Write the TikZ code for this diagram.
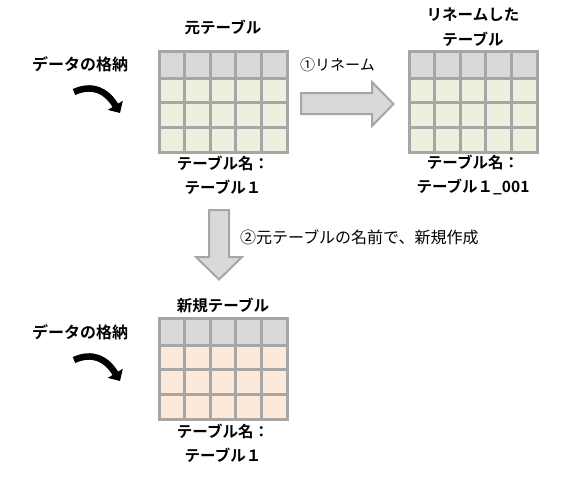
\documentclass[tikz,border=0pt]{standalone}
\usepackage{fontspec}
\setmainfont{Noto Sans CJK JP}[BoldFont={Noto Sans CJK JP Bold}]
\usepackage{xcolor}
\usetikzlibrary{arrows.meta}
\usetikzlibrary{positioning}

\definecolor{gridgray}{HTML}{A6A6A6}
\definecolor{headgray}{HTML}{D9D9D9}
\definecolor{bodygreen}{HTML}{EBF1DE}
\definecolor{bodyorange}{HTML}{FDE9D9}

\tikzset{
  tabtitle/.style={font=\bfseries\fontsize{15.5}{25}\selectfont, align=center, inner sep=0pt},
  tabname/.style={font=\bfseries\fontsize{15.5}{24}\selectfont, align=center, inner sep=0pt},
  steplabel/.style={font=\fontsize{15}{18}\selectfont, anchor=west, inner sep=0pt},
  storelabel/.style={font=\bfseries\fontsize{16}{18}\selectfont, inner sep=0pt},
  tabbox/.style={minimum width=128pt, minimum height=101pt, inner sep=0pt, outer sep=0pt},
  gridline/.style={draw=gridgray, line width=3pt},
  blockarrow/.style={fill=headgray, draw=gridgray, line width=2pt, line join=miter},
  storearrow/.style={line width=6.5pt, -{Triangle[length=9pt,width=17pt]}}
}

% table: name, centre, body colour
\newcommand{\datatable}[3]{%
  \node[tabbox] (#1) at #2 {};
  \fill[headgray] (#1.north west) rectangle ([yshift=-27pt]#1.north east);
  \fill[#3] ([yshift=-27pt]#1.north west) rectangle (#1.south east);
  \foreach \r in {27,51.7,76.3}
    \draw[gridline] ([yshift=-\r pt]#1.north west) -- ([yshift=-\r pt]#1.north east);
  \foreach \c in {1,...,4}
    \draw[gridline] ([xshift=\c*25.6pt]#1.north west) -- ([xshift=\c*25.6pt]#1.south west);
  \draw[gridline] (#1.north west) rectangle (#1.south east);
}

\begin{document}
\begin{tikzpicture}[x=1pt, y=-1pt]
  \useasboundingbox (0,0) rectangle (561,491);

  % ===== original table =====
  \datatable{orig}{(223,101.5)}{bodygreen}
  \node[tabtitle] (origtitle) at (223,27) {元テーブル};
  \node[tabname] (origname) at (223,175) {テーブル名：\\テーブル１};

  % ===== renamed table =====
  \datatable{renamed}{(473,101.5)}{bodygreen}
  \node[tabtitle] (renamedtitle) at (473,27.5) {リネームした\\テーブル};
  \node[tabname] (renamedname) at (473,175) {テーブル名：\\テーブル１\_001};

  % ===== new table =====
  \datatable{newtab}{(223,368.5)}{bodyorange}
  \node[tabtitle] (newtitle) at (223,305) {新規テーブル};
  \node[tabname] (newname) at (223,443.5) {テーブル名：\\テーブル１};

  % step 1: rename
  \draw[blockarrow] (301,93) -- (372,93) -- (372,82) -- (393.5,104)
    -- (372,126) -- (372,114) -- (301,114) -- cycle;
  \node[steplabel] (renamelabel) at (300,65) {①リネーム};

  % step 2: create new table
  \draw[blockarrow] (209,210) -- (229,210) -- (229,257) -- (242,257)
    -- (219,279.5) -- (196,257) -- (209,257) -- cycle;
  \node[steplabel, font=\fontsize{16}{18}\selectfont] (createlabel) at (240,237) {②元テーブルの名前で、新規作成};

  % data loading
  \node[storelabel] (store1) at (80,64) {データの格納};
  \draw[storearrow] (74,92) .. controls (92,84) and (106,90) .. (120,113);
  \node[storelabel] (store2) at (80,332) {データの格納};
  \draw[storearrow] (74,360) .. controls (92,352) and (106,358) .. (120,381);
\end{tikzpicture}
\end{document}
